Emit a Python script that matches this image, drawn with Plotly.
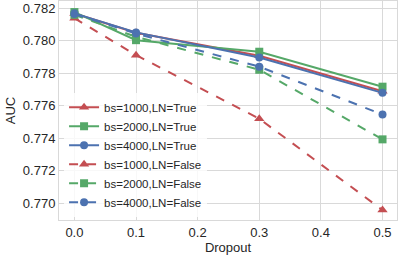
import plotly.graph_objects as go

dropout = [0.0, 0.1, 0.3, 0.5]
names = ["bs=1000,LN=True", "bs=2000,LN=True", "bs=4000,LN=True",
         "bs=1000,LN=False", "bs=2000,LN=False", "bs=4000,LN=False"]
bs1000_ln_true = [0.78168, 0.78050, 0.77908, 0.77690]
bs2000_ln_true = [0.78177, 0.78004, 0.77933, 0.77718]
bs4000_ln_true = [0.78169, 0.78052, 0.77898, 0.77680]
bs1000_ln_false = [0.78139, 0.77912, 0.77521, 0.76959]
bs2000_ln_false = [0.78160, 0.78025, 0.77822, 0.77394]
bs4000_ln_false = [0.78165, 0.78045, 0.77841, 0.77547]

series = [bs1000_ln_true, bs2000_ln_true, bs4000_ln_true,
          bs1000_ln_false, bs2000_ln_false, bs4000_ln_false]
colors = ["#C44E52", "#55A868", "#4C72B0"] * 2
symbols = ["triangle-up", "square", "circle"] * 2
dashes = ["solid"] * 3 + ["dash"] * 3

fig = go.Figure()
for name, vals, c, s, d in zip(names, series, colors, symbols, dashes):
    fig.add_trace(go.Scatter(
        x=dropout, y=vals, name=name, mode="lines+markers",
        line=dict(color=c, width=2, dash=d),
        marker=dict(color=c, symbol=s, size=8 if s != "triangle-up" else 9),
    ))

axis_common = dict(showgrid=True, gridcolor="#d9d9d9", gridwidth=1,
                   showline=True, linecolor="#d9d9d9", linewidth=1, mirror=True,
                   zeroline=False, ticks="", automargin=False,
                   tickfont=dict(size=13, color="#262626"))
fig.update_layout(
    width=399, height=257,
    margin=dict(l=59, r=2, t=1, b=37),
    plot_bgcolor="white", paper_bgcolor="white",
    font=dict(family="Liberation Sans, Arial, sans-serif", color="#262626"),
    xaxis=dict(range=[-0.025, 0.5235], tickvals=[0, 0.1, 0.2, 0.3, 0.4, 0.5],
               ticktext=["0.0", "0.1", "0.2", "0.3", "0.4", "0.5"],
               title=dict(text="Dropout", font=dict(size=13), standoff=2), **axis_common),
    yaxis=dict(range=[0.76898, 0.78245], tickvals=[0.770, 0.772, 0.774, 0.776, 0.778, 0.780, 0.782],
               tickformat=".3f",
               title=dict(text="AUC", font=dict(size=13), standoff=4), **axis_common),
    legend=dict(x=0.015, y=0.015, xanchor="left", yanchor="bottom",
                bgcolor="rgba(255,255,255,0.8)", font=dict(size=11.5, color="#262626"),
                itemwidth=30, tracegroupgap=0),
    showlegend=True,
)
fig.write_html("out.html", config={"displayModeBar": False},
               post_script="document.body.style.margin='0';document.documentElement.style.margin='0';")
